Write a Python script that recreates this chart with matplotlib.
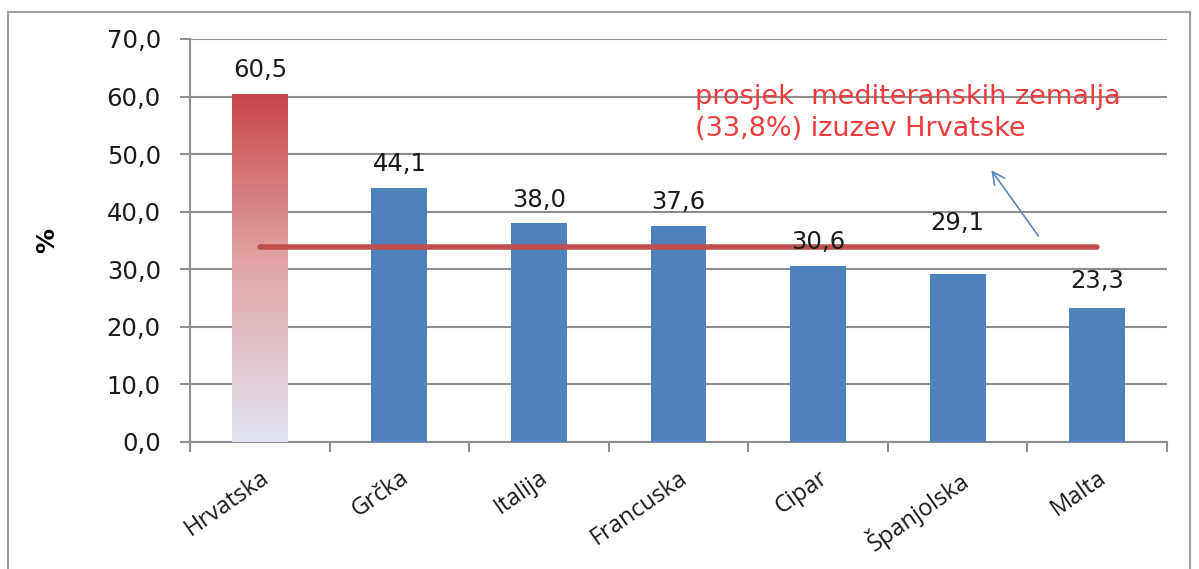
import matplotlib.pyplot as plt
import numpy as np
from matplotlib.colors import LinearSegmentedColormap
from matplotlib.patches import Rectangle

countries = ["Hrvatska", "Grčka", "Italija", "Francuska", "Cipar", "Španjolska", "Malta"]
values = [60.5, 44.1, 38.0, 37.6, 30.6, 29.1, 23.3]
average = 33.8
note = "prosjek  mediteranskih zemalja\n(33,8%) izuzev Hrvatske"
yticks = [0, 10, 20, 30, 40, 50, 60, 70]

blue = "#4f81bd"
grid_col = "#8e8e8e"

fig = plt.figure(figsize=(11.99, 5.69), dpi=100)
ax = fig.add_axes([0.1585, 0.2232, 0.8148, 0.7083])

x = np.arange(len(countries))
bars = ax.bar(x, values, width=0.4, color=blue, zorder=3)

# gradient fill for the first bar (Hrvatska)
b0 = bars[0]
b0.set_facecolor("none")
cmap = LinearSegmentedColormap.from_list("hr", ["#e0e3f1", "#e2a7a8", "#c8474a"])
grad = np.linspace(0, 1, 256).reshape(-1, 1)
img = ax.imshow(grad, cmap=cmap, origin="lower", aspect="auto",
                extent=[x[0] - 0.2, x[0] + 0.2, 0, values[0]], zorder=3)
img.set_clip_path(b0)

# value labels, comma as decimal separator
for i, v in enumerate(values):
    off = 12
    if countries[i] == "Španjolska":
        off = 32
    elif countries[i] == "Malta":
        off = 14
    ax.annotate(f"{v:.1f}".replace(".", ","), (x[i], v), xytext=(0, off),
                textcoords="offset points", ha="center", va="baseline",
                fontsize=17.5, family="DejaVu Sans", color="#1a1a1a", zorder=5)

# average line over the other countries
ax.plot([x[0], x[-1]], [average, average], color="#c0504d", lw=4,
        solid_capstyle="round", zorder=4)
ax.text(3.12, 53.2, note, color="#f03c3c", fontsize=19.5, family="DejaVu Sans",
        ha="left", va="baseline", linespacing=1.3, zorder=2)
ax.annotate("", xy=(5.23, 47.6), xytext=(5.59, 35.4),
            arrowprops=dict(arrowstyle="->", color="#5b84c4", lw=1.2,
                            mutation_scale=22), zorder=4)

ax.set_xlim(-0.5, len(countries) - 0.5)
ax.set_ylim(0, 70)
ax.set_yticks(yticks)
ax.set_yticklabels([f"{t:.1f}".replace(".", ",") for t in yticks],
                   fontsize=17.5, family="DejaVu Sans", color="#1a1a1a")
ax.set_xticks(x)
ax.set_xticklabels(countries, rotation=35, ha="right", rotation_mode="anchor",
                   fontsize=17, family="Open Sans", color="#1a1a1a")
ax.set_xticks(np.arange(-0.5, len(countries), 1), minor=True)
ax.tick_params(axis="x", which="major", length=0, pad=17)
ax.tick_params(axis="x", which="minor", length=7, width=1.5, color=grid_col)
ax.tick_params(axis="y", length=7, width=1.5, color=grid_col, pad=14)

ax.grid(axis="y", color=grid_col, lw=1.5, zorder=1)
ax.set_axisbelow(True)
for s in ["top", "right"]:
    ax.spines[s].set_visible(False)
for s in ["left", "bottom"]:
    ax.spines[s].set_color(grid_col)
    ax.spines[s].set_linewidth(1.5)

ax.set_ylabel("%", fontsize=18, fontweight="bold", family="DejaVu Sans", labelpad=34)

fig.patches.append(Rectangle((0.0067, -0.01), 0.986, 0.989, transform=fig.transFigure,
                             fill=False, edgecolor="#a0a0a0", lw=1.5))

fig.savefig("out.png", dpi=100)
